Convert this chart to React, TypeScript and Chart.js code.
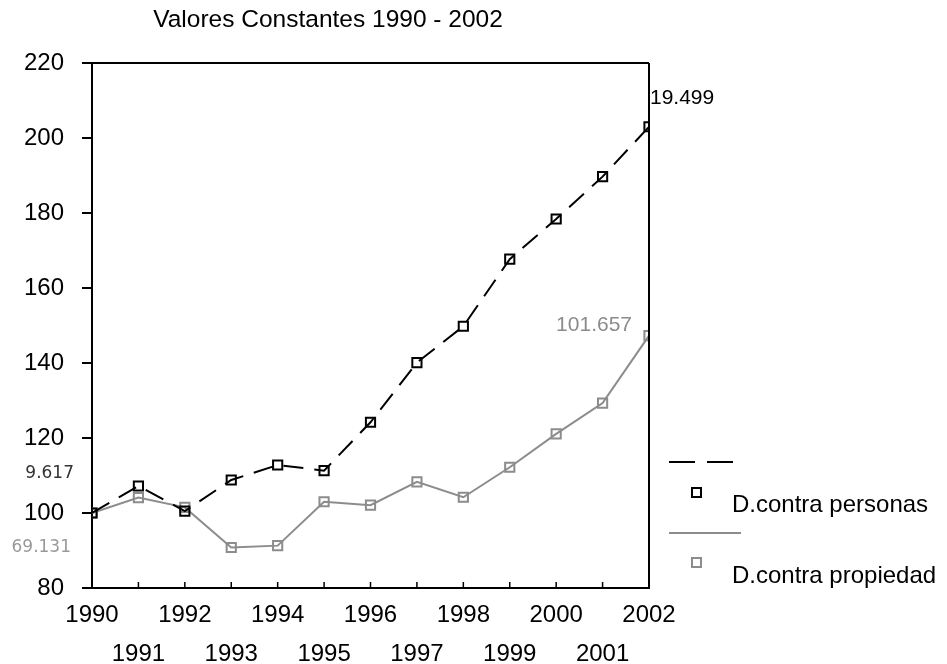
import React, { useEffect, useRef } from "react";
import { Chart, registerables } from "chart.js";

Chart.register(...registerables);

const years = [1990, 1991, 1992, 1993, 1994, 1995, 1996, 1997, 1998, 1999, 2000, 2001, 2002];
const personas = [100, 107.2, 100.5, 108.8, 112.8, 111.3, 124.2, 140.1, 149.8, 167.7, 178.4, 189.7, 203.0];
const propiedad = [100, 104.1, 101.5, 90.8, 91.3, 103.0, 102.1, 108.3, 104.2, 112.2, 121.1, 129.3, 147.3];
const yTicks = [80, 100, 120, 140, 160, 180, 200, 220];
const seriesNames = ["D.contra personas", "D.contra propiedad"];
const titleText = "Valores Constantes 1990 - 2002";
const annotations = [
  { text: "19.499", year: 2002, value: 203.0, color: "#000000" },
  { text: "101.657", year: 2002, value: 147.3, color: "#8c8c8c" },
  { text: "9.617", year: 1990, value: 100, color: "#333333" },
  { text: "69.131", year: 1990, value: 100, color: "#999999" },
];

const BLACK = "#000000";
const GREY = "#8c8c8c";
const FONT = "'Liberation Sans', Arial, sans-serif";

export default function App() {
  const ref = useRef<HTMLCanvasElement | null>(null);

  useEffect(() => {
    if (!ref.current) return;

    const decor = {
      id: "decor",
      afterDraw(chart: any) {
        const ctx = chart.ctx;
        const a = chart.chartArea;
        const xs = chart.scales.x;
        const ys = chart.scales.y;
        ctx.save();
        // frame
        ctx.strokeStyle = BLACK;
        ctx.lineWidth = 2;
        ctx.beginPath();
        ctx.moveTo(a.left, a.top);
        ctx.lineTo(a.right, a.top);
        ctx.moveTo(a.right, a.top);
        ctx.lineTo(a.right, a.bottom);
        ctx.stroke();
        // inner x ticks
        ctx.lineWidth = 1.5;
        ctx.beginPath();
        years.forEach((yr) => {
          const px = xs.getPixelForValue(yr);
          ctx.moveTo(px, a.bottom);
          ctx.lineTo(px, a.bottom - 6);
        });
        ctx.stroke();

        // title
        ctx.fillStyle = BLACK;
        ctx.font = `24.5px ${FONT}`;
        ctx.textAlign = "center";
        ctx.textBaseline = "middle";
        ctx.fillText(titleText, 328, 20);

        // annotations
        const p2002 = xs.getPixelForValue(2002);
        const p1990 = xs.getPixelForValue(1990);
        ctx.textBaseline = "middle";
        ctx.font = `21px ${FONT}`;
        ctx.fillStyle = annotations[0].color;
        ctx.textAlign = "left";
        ctx.fillText(annotations[0].text, p2002 + 1, ys.getPixelForValue(annotations[0].value) - 29);
        ctx.fillStyle = annotations[1].color;
        ctx.textAlign = "right";
        ctx.fillText(annotations[1].text, p2002 - 17, ys.getPixelForValue(annotations[1].value) - 10);
        ctx.font = `17px 'DejaVu Sans', sans-serif`;
        ctx.fillStyle = annotations[2].color;
        ctx.textAlign = "right";
        ctx.fillText(annotations[2].text, p1990 - 18, ys.getPixelForValue(annotations[2].value) - 39);
        ctx.fillStyle = annotations[3].color;
        ctx.fillText(annotations[3].text, p1990 - 21, ys.getPixelForValue(annotations[3].value) + 35);

        // legend
        const lx = a.right + 20;
        ctx.lineWidth = 2;
        ctx.strokeStyle = BLACK;
        ctx.setLineDash([26, 12]);
        ctx.beginPath();
        ctx.moveTo(lx, 462);
        ctx.lineTo(lx + 64, 462);
        ctx.stroke();
        ctx.setLineDash([]);
        ctx.strokeRect(lx + 23, 488, 9, 9);
        ctx.strokeStyle = GREY;
        ctx.beginPath();
        ctx.moveTo(lx, 533);
        ctx.lineTo(lx + 72, 533);
        ctx.stroke();
        ctx.strokeRect(lx + 23, 558, 9, 9);
        ctx.fillStyle = BLACK;
        ctx.font = `24px ${FONT}`;
        ctx.textAlign = "left";
        ctx.fillText(seriesNames[0], 732, 505);
        ctx.fillText(seriesNames[1], 732, 576);
        ctx.restore();
      },
    };

    const chart = new Chart(ref.current, {
      type: "line",
      data: {
        datasets: [
          {
            label: seriesNames[0],
            data: years.map((x, i) => ({ x, y: personas[i] })),
            borderColor: BLACK,
            borderWidth: 2,
            borderDash: [20, 11],
            pointStyle: "rect",
            pointRadius: 6.5,
            pointBorderWidth: 2,
            pointBorderColor: BLACK,
            pointBackgroundColor: "rgba(0,0,0,0)",
            tension: 0,
          },
          {
            label: seriesNames[1],
            data: years.map((x, i) => ({ x, y: propiedad[i] })),
            borderColor: GREY,
            borderWidth: 2,
            pointStyle: "rect",
            pointRadius: 6.5,
            pointBorderWidth: 2,
            pointBorderColor: GREY,
            pointBackgroundColor: "rgba(0,0,0,0)",
            tension: 0,
          },
        ],
      },
      options: {
        animation: false,
        responsive: false,
        maintainAspectRatio: false,
        layout: { padding: { top: 63, right: 298, left: 0, bottom: 0 } },
        plugins: {
          legend: { display: false },
          tooltip: { enabled: false },
          title: { display: false },
        },
        scales: {
          x: {
            type: "linear",
            min: 1990,
            max: 2002,
            afterBuildTicks: (s: any) => {
              s.ticks = years.map((v) => ({ value: v }));
            },
            afterFit: (s: any) => {
              s.height = 76;
            },
            grid: { display: false },
            border: { display: true, color: BLACK, width: 2 },
            ticks: {
              autoSkip: false,
              maxRotation: 0,
              padding: 0,
              color: BLACK,
              font: { family: FONT, size: 24, lineHeight: 1.62 },
              callback: (v: any) => (Number(v) % 2 === 0 ? [String(v)] : ["", String(v)]),
            },
          },
          y: {
            min: 80,
            max: 220,
            afterBuildTicks: (s: any) => {
              s.ticks = yTicks.map((v) => ({ value: v }));
            },
            afterFit: (s: any) => {
              s.width = 92;
            },
            grid: { drawOnChartArea: false, tickLength: 10, color: BLACK, lineWidth: 2 },
            border: { display: true, color: BLACK, width: 2 },
            ticks: {
              padding: 18,
              color: BLACK,
              font: { family: FONT, size: 24 },
            },
          },
        },
      },
      plugins: [decor],
    } as any);

    return () => chart.destroy();
  }, []);

  return (
    <div style={{ position: "fixed", left: 0, top: 0, width: 947, height: 664, background: "#fff" }}>
      <canvas ref={ref} width={947} height={664} style={{ width: 947, height: 664 }} />
    </div>
  );
}
